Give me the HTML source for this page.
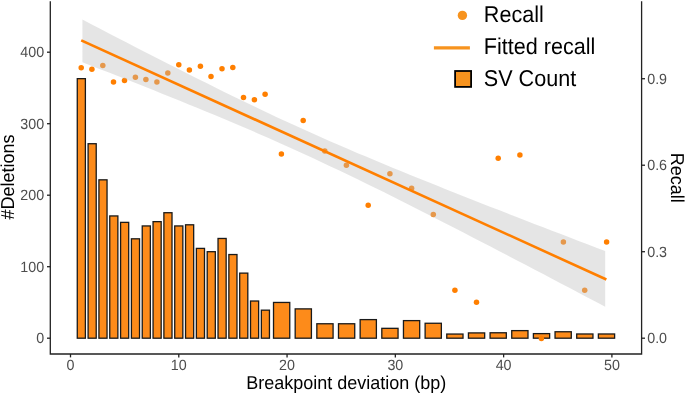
<!DOCTYPE html>
<html><head><meta charset="utf-8"><style>
html,body{margin:0;padding:0;background:#fff;}
body{width:685px;height:394px;overflow:hidden;}
svg{display:block;font-family:"Liberation Sans",sans-serif;will-change:transform;}
text{text-rendering:geometricPrecision;}
</style></head><body>
<svg width="685" height="394" viewBox="0 0 685 394">
<rect width="685" height="394" fill="#fff"/>
<g fill="#FD8B1A" stroke="#1a1a1a" stroke-width="1.3">
<rect x="77.27" y="78.65" width="8.12" height="259.55"/>
<rect x="88.10" y="143.72" width="8.12" height="194.48"/>
<rect x="98.92" y="179.83" width="8.12" height="158.37"/>
<rect x="109.75" y="215.94" width="8.12" height="122.26"/>
<rect x="120.58" y="222.37" width="8.12" height="115.83"/>
<rect x="131.41" y="238.81" width="8.12" height="99.38"/>
<rect x="142.24" y="225.94" width="8.12" height="112.25"/>
<rect x="153.06" y="221.65" width="8.12" height="116.55"/>
<rect x="163.89" y="212.72" width="8.12" height="125.48"/>
<rect x="174.72" y="225.94" width="8.12" height="112.25"/>
<rect x="185.55" y="224.80" width="8.12" height="113.40"/>
<rect x="196.38" y="248.40" width="8.12" height="89.80"/>
<rect x="207.20" y="251.69" width="8.12" height="86.51"/>
<rect x="218.03" y="238.46" width="8.12" height="99.74"/>
<rect x="228.86" y="254.54" width="8.12" height="83.66"/>
<rect x="239.69" y="273.13" width="8.12" height="65.06"/>
<rect x="250.52" y="301.02" width="8.12" height="37.18"/>
<rect x="261.34" y="310.17" width="8.12" height="28.03"/>
<rect x="273.52" y="302.45" width="16.24" height="35.75"/>
<rect x="295.18" y="308.88" width="16.24" height="29.31"/>
<rect x="316.84" y="323.76" width="16.24" height="14.44"/>
<rect x="338.49" y="323.76" width="16.24" height="14.44"/>
<rect x="360.15" y="319.61" width="16.24" height="18.59"/>
<rect x="381.81" y="328.33" width="16.24" height="9.87"/>
<rect x="403.46" y="320.61" width="16.24" height="17.59"/>
<rect x="425.12" y="323.26" width="16.24" height="14.94"/>
<rect x="446.77" y="334.05" width="16.24" height="4.15"/>
<rect x="468.43" y="332.91" width="16.24" height="5.29"/>
<rect x="490.08" y="332.77" width="16.24" height="5.43"/>
<rect x="511.74" y="330.62" width="16.24" height="7.58"/>
<rect x="533.40" y="333.62" width="16.24" height="4.58"/>
<rect x="555.05" y="331.76" width="16.24" height="6.44"/>
<rect x="576.71" y="333.98" width="16.24" height="4.22"/>
<rect x="598.37" y="333.98" width="16.24" height="4.22"/>
</g>
<g fill="#FF7F00">
<circle cx="81.2" cy="67.7" r="2.75"/>
<circle cx="91.9" cy="69.2" r="2.75"/>
<circle cx="102.8" cy="65.5" r="2.75"/>
<circle cx="113.5" cy="82.0" r="2.75"/>
<circle cx="124.5" cy="80.4" r="2.75"/>
<circle cx="135.4" cy="77.2" r="2.75"/>
<circle cx="145.9" cy="79.4" r="2.75"/>
<circle cx="156.9" cy="81.9" r="2.75"/>
<circle cx="167.8" cy="73.1" r="2.75"/>
<circle cx="178.8" cy="64.8" r="2.75"/>
<circle cx="189.4" cy="70.1" r="2.75"/>
<circle cx="200.4" cy="66.3" r="2.75"/>
<circle cx="211.0" cy="76.5" r="2.75"/>
<circle cx="222.0" cy="68.7" r="2.75"/>
<circle cx="232.8" cy="67.4" r="2.75"/>
<circle cx="243.5" cy="97.5" r="2.75"/>
<circle cx="254.4" cy="99.7" r="2.75"/>
<circle cx="265.1" cy="94.2" r="2.75"/>
<circle cx="281.4" cy="153.9" r="2.75"/>
<circle cx="303.2" cy="120.4" r="2.75"/>
<circle cx="324.8" cy="151.0" r="2.75"/>
<circle cx="346.4" cy="165.3" r="2.75"/>
<circle cx="368.2" cy="205.3" r="2.75"/>
<circle cx="389.9" cy="173.8" r="2.75"/>
<circle cx="411.6" cy="188.2" r="2.75"/>
<circle cx="433.3" cy="214.5" r="2.75"/>
<circle cx="454.9" cy="290.3" r="2.75"/>
<circle cx="476.5" cy="302.2" r="2.75"/>
<circle cx="498.2" cy="158.2" r="2.75"/>
<circle cx="519.9" cy="154.9" r="2.75"/>
<circle cx="541.4" cy="338.4" r="2.75"/>
<circle cx="563.4" cy="242.1" r="2.75"/>
<circle cx="584.7" cy="290.3" r="2.75"/>
<circle cx="606.6" cy="242.1" r="2.75"/>
</g>
<path d="M82.4,19.6 L91.3,24.2 L100.1,28.8 L109.0,33.4 L117.8,38.0 L126.7,42.6 L135.6,47.2 L144.4,51.7 L153.3,56.3 L162.1,60.8 L171.0,65.3 L179.9,69.8 L188.7,74.3 L197.6,78.7 L206.5,83.1 L215.3,87.5 L224.2,91.9 L233.0,96.2 L241.9,100.5 L250.8,104.8 L259.6,109.0 L268.5,113.2 L277.3,117.4 L286.2,121.5 L295.1,125.6 L303.9,129.6 L312.8,133.6 L321.6,137.5 L330.5,141.4 L339.4,145.3 L348.2,149.1 L357.1,152.9 L366.0,156.6 L374.8,160.3 L383.7,164.0 L392.5,167.7 L401.4,171.3 L410.3,174.9 L419.1,178.5 L428.0,182.1 L436.8,185.6 L445.7,189.2 L454.6,192.7 L463.4,196.2 L472.3,199.7 L481.1,203.2 L490.0,206.7 L498.9,210.1 L507.7,213.6 L516.6,217.0 L525.5,220.4 L534.3,223.9 L543.2,227.3 L552.0,230.7 L560.9,234.1 L569.8,237.5 L578.6,240.9 L587.5,244.3 L596.3,247.7 L605.2,251.1 L605.2,306.8 L596.3,302.1 L587.5,297.4 L578.6,292.8 L569.8,288.1 L560.9,283.4 L552.0,278.8 L543.2,274.1 L534.3,269.5 L525.5,264.8 L516.6,260.2 L507.7,255.6 L498.9,251.0 L490.0,246.3 L481.1,241.8 L472.3,237.2 L463.4,232.6 L454.6,228.0 L445.7,223.5 L436.8,218.9 L428.0,214.4 L419.1,209.9 L410.3,205.4 L401.4,201.0 L392.5,196.6 L383.7,192.1 L374.8,187.8 L366.0,183.4 L357.1,179.1 L348.2,174.8 L339.4,170.6 L330.5,166.4 L321.6,162.2 L312.8,158.1 L303.9,154.0 L295.1,149.9 L286.2,145.9 L277.3,142.0 L268.5,138.1 L259.6,134.2 L250.8,130.3 L241.9,126.5 L233.0,122.8 L224.2,119.0 L215.3,115.3 L206.5,111.7 L197.6,108.0 L188.7,104.4 L179.9,100.8 L171.0,97.2 L162.1,93.7 L153.3,90.1 L144.4,86.6 L135.6,83.1 L126.7,79.6 L117.8,76.1 L109.0,72.6 L100.1,69.2 L91.3,65.7 L82.4,62.3Z" fill="#BFBFBF" fill-opacity="0.4"/>
<path d="M82.4,40.92 L605.2,278.95" stroke="#FF7F00" stroke-width="2.6" stroke-linecap="square" fill="none"/>
<g stroke="#222222" stroke-width="1.3" fill="none">
<path d="M50.3,1.3 V354 H641.6 V1.3"/>
<line x1="47" x2="50.3" y1="338.20" y2="338.20"/><line x1="47" x2="50.3" y1="266.70" y2="266.70"/><line x1="47" x2="50.3" y1="195.20" y2="195.20"/><line x1="47" x2="50.3" y1="123.70" y2="123.70"/><line x1="47" x2="50.3" y1="52.20" y2="52.20"/><line x1="641.6" x2="645" y1="338.20" y2="338.20"/><line x1="641.6" x2="645" y1="251.71" y2="251.71"/><line x1="641.6" x2="645" y1="165.22" y2="165.22"/><line x1="641.6" x2="645" y1="78.73" y2="78.73"/><line x1="70.50" x2="70.50" y1="354" y2="357.4"/><line x1="178.78" x2="178.78" y1="354" y2="357.4"/><line x1="287.06" x2="287.06" y1="354" y2="357.4"/><line x1="395.34" x2="395.34" y1="354" y2="357.4"/><line x1="503.62" x2="503.62" y1="354" y2="357.4"/><line x1="611.90" x2="611.90" y1="354" y2="357.4"/>
</g>
<g fill="#4D4D4D" font-size="14.3px">
<text transform="translate(44.10,343.20) scale(1,1.04)" text-anchor="end">0</text><text transform="translate(44.10,271.70) scale(1,1.04)" text-anchor="end">100</text><text transform="translate(44.10,200.20) scale(1,1.04)" text-anchor="end">200</text><text transform="translate(44.10,128.70) scale(1,1.04)" text-anchor="end">300</text><text transform="translate(44.10,57.20) scale(1,1.04)" text-anchor="end">400</text>
<text transform="translate(647.20,343.20) scale(1,1.04)">0.0</text><text transform="translate(647.20,256.71) scale(1,1.04)">0.3</text><text transform="translate(647.20,170.22) scale(1,1.04)">0.6</text><text transform="translate(647.20,83.73) scale(1,1.04)">0.9</text>
<text transform="translate(70.50,369.60) scale(1,1.04)" text-anchor="middle">0</text><text transform="translate(178.78,369.60) scale(1,1.04)" text-anchor="middle">10</text><text transform="translate(287.06,369.60) scale(1,1.04)" text-anchor="middle">20</text><text transform="translate(395.34,369.60) scale(1,1.04)" text-anchor="middle">30</text><text transform="translate(503.62,369.60) scale(1,1.04)" text-anchor="middle">40</text><text transform="translate(611.90,369.60) scale(1,1.04)" text-anchor="middle">50</text>
</g>
<g fill="#000" font-size="18px">
<text transform="translate(346.20,388.60) scale(1,1.04)" text-anchor="middle">Breakpoint deviation (bp)</text>
<text transform="translate(14.00,177.00) rotate(-90) scale(1,1.04)" text-anchor="middle">#Deletions</text>
<text transform="translate(670.80,177.70) rotate(90) scale(1,1.04)" text-anchor="middle">Recall</text>
</g>
<g>
<circle cx="462.4" cy="15.4" r="4.7" fill="#F7931E"/>
<line x1="433.9" x2="469.9" y1="47.8" y2="47.8" stroke="#F7931E" stroke-width="3.2"/>
<rect x="455.1" y="71.0" width="16.0" height="15.9" fill="#F7931E" stroke="#000" stroke-width="1.8"/>
</g>
<g fill="#000" font-size="21.6px">
<text transform="translate(483.80,21.50) scale(1,1.06)">Recall</text>
<text transform="translate(483.80,54.00) scale(1,1.06)">Fitted recall</text>
<text transform="translate(483.80,86.30) scale(1,1.06)">SV Count</text>
</g>
</svg>
</body></html>
